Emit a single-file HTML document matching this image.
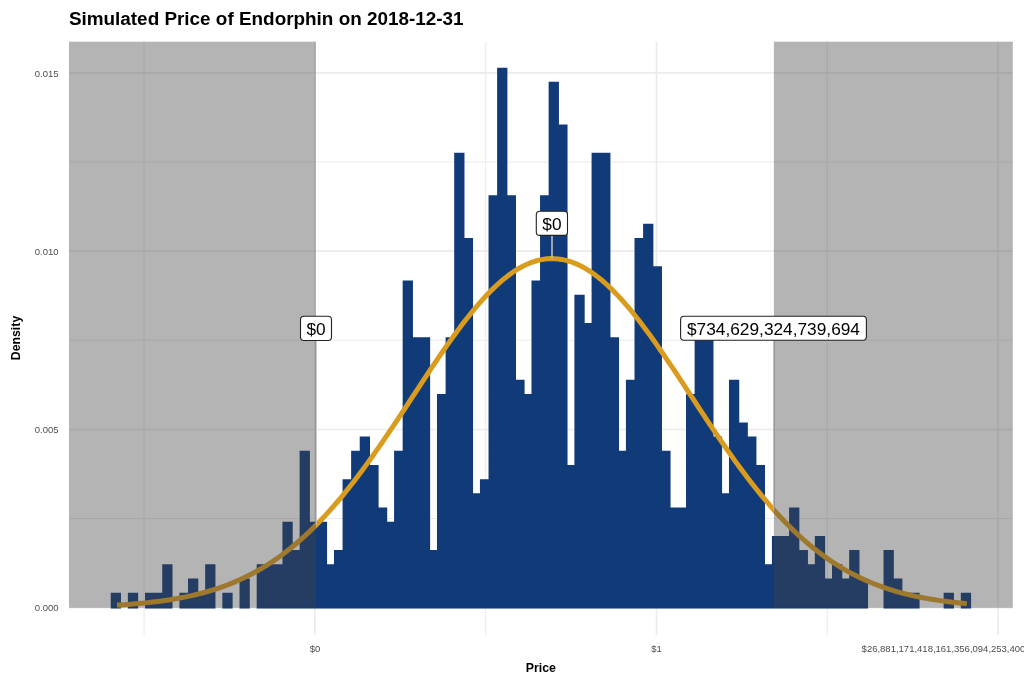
<!DOCTYPE html>
<html><head><meta charset="utf-8"><style>
html,body{margin:0;padding:0;background:#fff;}
body{width:1024px;height:683px;overflow:hidden;position:relative;font-family:"Liberation Sans",sans-serif;}
svg{position:absolute;left:0;top:0;will-change:transform;}
.t{font-family:"Liberation Sans",sans-serif;}
</style></head><body>
<svg width="1024" height="683" viewBox="0 0 1024 683">
<rect x="0" y="0" width="1024" height="683" fill="#fff"/>
<line x1="69" y1="518.57" x2="1012.8" y2="518.57" stroke="#ebebeb" stroke-width="1.1"/>
<line x1="69" y1="340.3" x2="1012.8" y2="340.3" stroke="#ebebeb" stroke-width="1.1"/>
<line x1="69" y1="162.03" x2="1012.8" y2="162.03" stroke="#ebebeb" stroke-width="1.1"/>
<line x1="144.05" y1="41.7" x2="144.05" y2="635" stroke="#ebebeb" stroke-width="1.1"/>
<line x1="485.65" y1="41.7" x2="485.65" y2="635" stroke="#ebebeb" stroke-width="1.1"/>
<line x1="827.25" y1="41.7" x2="827.25" y2="635" stroke="#ebebeb" stroke-width="1.1"/>
<line x1="69" y1="607.7" x2="1012.8" y2="607.7" stroke="#ebebeb" stroke-width="1.6"/>
<line x1="69" y1="429.43" x2="1012.8" y2="429.43" stroke="#ebebeb" stroke-width="1.6"/>
<line x1="69" y1="251.16" x2="1012.8" y2="251.16" stroke="#ebebeb" stroke-width="1.6"/>
<line x1="69" y1="72.89" x2="1012.8" y2="72.89" stroke="#ebebeb" stroke-width="1.6"/>
<line x1="314.85" y1="41.7" x2="314.85" y2="635" stroke="#ebebeb" stroke-width="1.6"/>
<line x1="656.45" y1="41.7" x2="656.45" y2="635" stroke="#ebebeb" stroke-width="1.6"/>
<line x1="998.05" y1="41.7" x2="998.05" y2="635" stroke="#ebebeb" stroke-width="1.6"/>
<path d="M111.56 607.7V593.51H120.15V607.7ZM128.73 607.7V593.51H137.32V607.7ZM145.91 607.7V593.51H154.49V593.51H163.08V565.13H171.67V607.7ZM180.26 607.7V593.51H188.84V579.32H197.43V593.51H206.02V565.13H214.6V607.7ZM223.19 607.7V593.51H231.78V607.7ZM240.36 607.7V579.32H248.95V607.7ZM257.54 607.7V565.13H266.12V565.13H274.71V565.13H283.3V522.56H291.88V550.94H300.47V451.61H309.06V522.56H317.65V522.56H326.23V565.13H334.82V550.94H343.41V479.99H351.99V451.61H360.58V437.42H369.17V465.8H377.75V508.37H386.34V522.56H394.93V451.61H403.51V281.33H412.1V338.09H420.69V338.09H429.28V550.94H437.86V394.85H446.45V338.09H455.04V153.62H463.62V238.76H472.21V494.18H480.8V479.99H489.38V196.19H497.97V68.48H506.56V196.19H515.14V380.66H523.73V394.85H532.32V281.33H540.9V196.19H549.49V82.67H558.08V125.24H566.67V465.8H575.25V295.52H583.84V323.9H592.43V153.62H601.01V153.62H609.6V338.09H618.19V451.61H626.77V380.66H635.36V238.76H643.95V224.57H652.53V267.14H661.12V451.61H669.71V508.37H678.3V508.37H686.88V394.85H695.47V338.09H704.06V338.09H712.64V437.42H721.23V494.18H729.82V380.66H738.4V423.23H746.99V437.42H755.58V465.8H764.16V565.13H772.75V536.75H781.34V536.75H789.93V508.37H798.51V550.94H807.1V565.13H815.69V536.75H824.27V579.32H832.86V565.13H841.45V579.32H850.03V550.94H858.62V579.32H867.21V607.7ZM884.38 607.7V550.94H892.97V579.32H901.55V593.51H910.14V593.51H918.73V607.7ZM944.49 607.7V593.51H953.08V607.7ZM961.66 607.7V593.51H970.25V607.7Z" fill="#113a78" stroke="#113a78" stroke-width="1.7"/>
<path d="M116.96 605.1 L120.52 604.88 L124.07 604.65 L127.63 604.4 L131.18 604.14 L134.74 603.85 L138.3 603.55 L141.85 603.22 L145.41 602.87 L148.97 602.49 L152.52 602.1 L156.08 601.67 L159.63 601.22 L163.19 600.73 L166.75 600.22 L170.3 599.67 L173.86 599.09 L177.42 598.47 L180.97 597.82 L184.53 597.12 L188.08 596.38 L191.64 595.6 L195.2 594.78 L198.75 593.9 L202.31 592.98 L205.87 592.01 L209.42 590.98 L212.98 589.9 L216.53 588.76 L220.09 587.56 L223.65 586.3 L227.2 584.97 L230.76 583.58 L234.32 582.12 L237.87 580.58 L241.43 578.98 L244.98 577.3 L248.54 575.54 L252.1 573.7 L255.65 571.79 L259.21 569.78 L262.77 567.7 L266.32 565.52 L269.88 563.26 L273.43 560.91 L276.99 558.46 L280.55 555.92 L284.1 553.28 L287.66 550.55 L291.22 547.72 L294.77 544.79 L298.33 541.76 L301.88 538.63 L305.44 535.4 L309 532.06 L312.55 528.63 L316.11 525.09 L319.67 521.45 L323.22 517.71 L326.78 513.87 L330.33 509.93 L333.89 505.89 L337.45 501.75 L341 497.52 L344.56 493.19 L348.12 488.77 L351.67 484.26 L355.23 479.66 L358.78 474.98 L362.34 470.22 L365.9 465.38 L369.45 460.46 L373.01 455.48 L376.57 450.43 L380.12 445.32 L383.68 440.15 L387.23 434.93 L390.79 429.67 L394.35 424.36 L397.9 419.02 L401.46 413.65 L405.01 408.26 L408.57 402.86 L412.13 397.44 L415.68 392.02 L419.24 386.61 L422.8 381.21 L426.35 375.84 L429.91 370.48 L433.46 365.17 L437.02 359.89 L440.58 354.67 L444.13 349.51 L447.69 344.41 L451.25 339.39 L454.8 334.45 L458.36 329.61 L461.91 324.86 L465.47 320.22 L469.03 315.7 L472.58 311.29 L476.14 307.02 L479.7 302.89 L483.25 298.9 L486.81 295.06 L490.36 291.39 L493.92 287.88 L497.48 284.54 L501.03 281.38 L504.59 278.41 L508.15 275.62 L511.7 273.04 L515.26 270.65 L518.81 268.47 L522.37 266.49 L525.93 264.73 L529.48 263.19 L533.04 261.87 L536.6 260.76 L540.15 259.89 L543.71 259.24 L547.26 258.81 L550.82 258.61 L554.38 258.65 L557.93 258.91 L561.49 259.4 L565.05 260.11 L568.6 261.05 L572.16 262.22 L575.71 263.6 L579.27 265.21 L582.83 267.03 L586.38 269.06 L589.94 271.3 L593.5 273.74 L597.05 276.39 L600.61 279.22 L604.16 282.25 L607.72 285.46 L611.28 288.85 L614.83 292.4 L618.39 296.12 L621.95 300 L625.5 304.03 L629.06 308.21 L632.61 312.52 L636.17 316.95 L639.73 321.51 L643.28 326.18 L646.84 330.96 L650.4 335.83 L653.95 340.79 L657.51 345.84 L661.06 350.95 L664.62 356.13 L668.18 361.37 L671.73 366.65 L675.29 371.98 L678.85 377.34 L682.4 382.73 L685.96 388.13 L689.51 393.54 L693.07 398.96 L696.63 404.37 L700.18 409.78 L703.74 415.16 L707.29 420.52 L710.85 425.85 L714.41 431.15 L717.96 436.4 L721.52 441.6 L725.08 446.76 L728.63 451.85 L732.19 456.88 L735.74 461.85 L739.3 466.74 L742.86 471.56 L746.41 476.3 L749.97 480.96 L753.53 485.53 L757.08 490.02 L760.64 494.41 L764.19 498.71 L767.75 502.92 L771.31 507.03 L774.86 511.04 L778.42 514.96 L781.98 518.77 L785.53 522.48 L789.09 526.09 L792.64 529.6 L796.2 533.01 L799.76 536.31 L803.31 539.52 L806.87 542.62 L810.43 545.62 L813.98 548.52 L817.54 551.33 L821.09 554.03 L824.65 556.64 L828.21 559.15 L831.76 561.57 L835.32 563.9 L838.88 566.14 L842.43 568.29 L845.99 570.35 L849.54 572.33 L853.1 574.23 L856.66 576.04 L860.21 577.78 L863.77 579.44 L867.33 581.02 L870.88 582.53 L874.44 583.97 L877.99 585.35 L881.55 586.66 L885.11 587.9 L888.66 589.08 L892.22 590.21 L895.78 591.28 L899.33 592.29 L902.89 593.25 L906.44 594.15 L910 595.01 L913.56 595.83 L917.11 596.59 L920.67 597.32 L924.23 598 L927.78 598.65 L931.34 599.26 L934.89 599.83 L938.45 600.37 L942.01 600.87 L945.56 601.35 L949.12 601.79 L952.68 602.21 L956.23 602.6 L959.79 602.97 L963.34 603.31 L966.9 603.63" fill="none" stroke="#d99c1f" stroke-width="5.0" stroke-linejoin="round" stroke-linecap="butt"/>
<line x1="316" y1="340.5" x2="316" y2="525.2" stroke="#bebebe" stroke-width="1.6"/>
<line x1="552" y1="235.4" x2="552" y2="258.6" stroke="#bebebe" stroke-width="1.6"/>
<line x1="773.9" y1="340.3" x2="773.9" y2="509.97" stroke="#bebebe" stroke-width="1.6"/>
<rect x="69" y="41.7" width="246.9" height="566" fill="rgba(67,67,67,0.4)"/>
<rect x="773.9" y="41.7" width="238.9" height="566" fill="rgba(67,67,67,0.4)"/>
<g class="t">
<rect x="300.5" y="316.2" width="31" height="24.3" rx="3.5" fill="#fff" stroke="#222" stroke-width="1.1"/>
<text x="316" y="334.6" font-size="17.3" text-anchor="middle" fill="#000">$0</text>
<rect x="536.3" y="211.3" width="31.2" height="24.1" rx="3.5" fill="#fff" stroke="#222" stroke-width="1.1"/>
<text x="551.9" y="229.6" font-size="17.3" text-anchor="middle" fill="#000">$0</text>
<rect x="680.6" y="316.2" width="185.8" height="24.1" rx="3.5" fill="#fff" stroke="#222" stroke-width="1.1"/>
<text x="773.5" y="334.6" font-size="17.3" text-anchor="middle" fill="#000">$734,629,324,739,694</text>
</g>
<g class="t" fill="#4d4d4d" font-size="9.5">
<text x="58.6" y="76.6" text-anchor="end">0.015</text>
<text x="58.6" y="254.6" text-anchor="end">0.010</text>
<text x="58.6" y="432.8" text-anchor="end">0.005</text>
<text x="58.6" y="610.8" text-anchor="end">0.000</text>
<text x="315" y="651.8" text-anchor="middle">$0</text>
<text x="656.45" y="651.8" text-anchor="middle">$1</text>
<text x="861.6" y="651.8" text-anchor="start">$26,881,171,418,161,356,094,253,400</text>
</g>
<text class="t" x="540.8" y="672" font-size="12.3" font-weight="bold" text-anchor="middle" fill="#000">Price</text>
<text class="t" transform="translate(19.9 338) rotate(-90)" font-size="12.3" font-weight="bold" text-anchor="middle" fill="#000">Density</text>
<text class="t" x="68.9" y="24.5" font-size="18.9" font-weight="bold" fill="#000">Simulated Price of Endorphin on 2018-12-31</text>
</svg>
</body></html>
